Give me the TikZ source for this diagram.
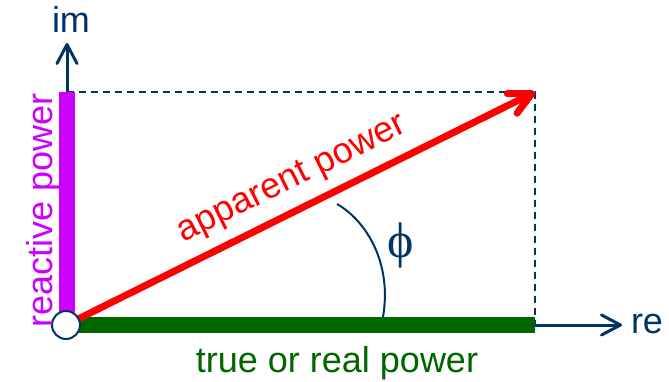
\documentclass[tikz,border=0pt]{standalone}
\usepackage{fontspec}
\setmainfont{Liberation Sans}
\newfontfamily\phifont{Liberation Serif}
\usetikzlibrary{arrows.meta}
\definecolor{navy}{RGB}{0,51,102}
\definecolor{magentabar}{RGB}{204,0,255}
\definecolor{darkgreen}{RGB}{0,102,0}
\begin{document}
\begin{tikzpicture}[x=1pt,y=-1pt,
  lbl/.style={font=\fontsize{36}{40}\selectfont, inner sep=0pt},
  axis/.style={draw=navy, line width=3pt, -{Straight Barb[length=19pt,width=20pt,round]}},
  guide/.style={draw=navy, line width=2pt, dash pattern=on 7pt off 5pt},
  bar/.style={line width=16pt},
]
\useasboundingbox (0,0) rectangle (669,382);
\coordinate (O) at (66,325);
\coordinate (Q) at (67,92);
\coordinate (P) at (535,92);
\coordinate (R) at (535,325);
\coordinate (imtip) at (67,43);
\coordinate (retip) at (622,325);
\coordinate (A1) at (337,204);
\coordinate (A2) at (383,317);
% dashed guides
\draw[guide] (Q) -- (P) -- (R);
% bars
\draw[bar, magentabar] (Q) -- (Q|-O);
\draw[bar, darkgreen] (O) -- (R);
% apparent power arrow
\draw[red, line width=7pt, -{Straight Barb[length=22pt,width=22pt,round]}] (O) -- (P);
% axes
\draw[axis] (Q) -- (imtip);
\draw[axis] (R) -- (retip);
% angle
\draw[navy, line width=2pt] (A1) .. controls (368,222) and (392,265) .. (A2);
% origin
\node[circle, draw=navy, fill=white, line width=2pt, minimum size=28pt, inner sep=0pt] (origin) at (O) {};
% labels
\node[lbl, text=navy, anchor=base] (im) at (71,33) {im};
\node[lbl, text=navy, anchor=base] (re) at (647,333) {re};
\node[lbl, text=darkgreen, anchor=base] (real) at (337,372) {true or real power};
\node[lbl, text=magentabar, rotate=90, anchor=base] (reactive) at (52,210) {reactive power};
\node[lbl, text=red, rotate=26.4, anchor=base] (apparent) at (296,187) {apparent power};
\node[text=navy, font=\phifont\fontsize{50}{54}\selectfont, inner sep=0pt] (phi) at (401,245) {ϕ};
\end{tikzpicture}
\end{document}
